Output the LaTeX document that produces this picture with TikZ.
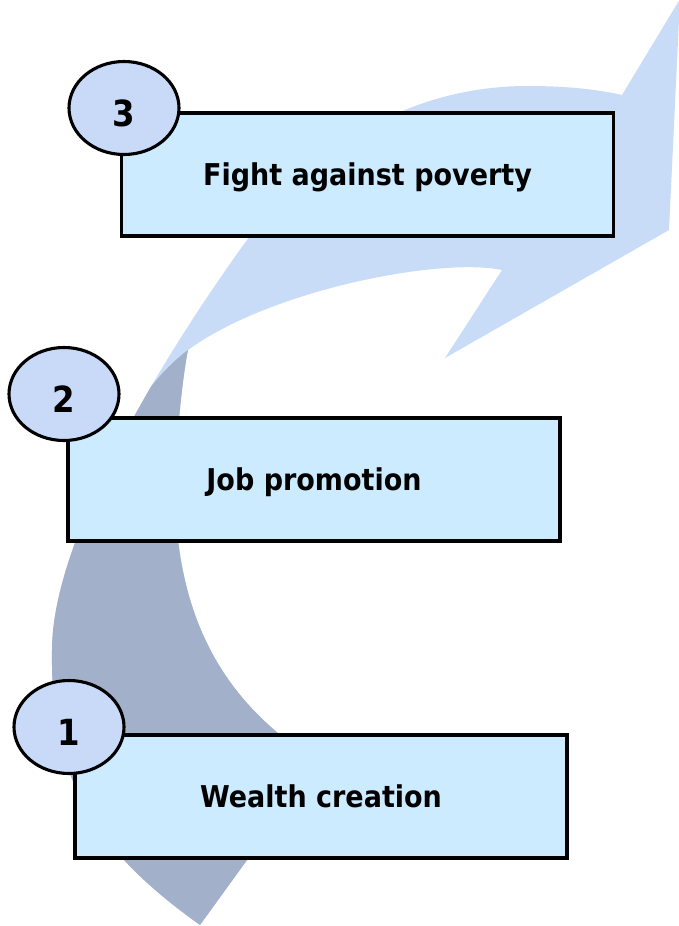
\documentclass[tikz,border=0pt]{standalone}
\usepackage{fontspec}
\setmainfont{DejaVu Sans}[FakeStretch=0.9]
\usetikzlibrary{shapes.geometric}
\definecolor{bandlight}{RGB}{200,219,247}
\definecolor{banddark}{RGB}{162,176,202}
\definecolor{boxfill}{RGB}{204,235,255}
\definecolor{circfill}{RGB}{200,218,248}
\def\mybandpath{(200,925) .. controls (95,850) and (50,780) .. (52,650)
  .. controls (52,540) and (160,360) .. (247,240)
  .. controls (334,120) and (440,86) .. (528,86)
  .. controls (570,86) and (600,90) .. (622,95)
  -- (680,-1) -- (669,230) -- (445,358) -- (502,270)
  .. controls (440,257) and (270,290) .. (188,350)
  .. controls (180,390) and (170,500) .. (178,540)
  .. controls (190,640) and (235,710) .. (318,762)
  -- cycle}
\begin{document}
\begin{tikzpicture}[x=1pt,y=-1pt,
  stepbox/.style={draw=black, line width=3.1pt, fill=boxfill, minimum width=492pt, minimum height=123pt, inner sep=0pt, text height=21.9pt, text depth=0pt, font=\bfseries\fontsize{30}{36}\selectfont},
  numcirc/.style={draw=black, line width=3.1pt, fill=circfill, ellipse, minimum width=110pt, minimum height=93pt, inner sep=0pt},
  numtext/.style={inner sep=0pt, text height=26pt, text depth=0pt, font=\bfseries\fontsize{36}{40}\selectfont}]
\useasboundingbox (0,0) rectangle (679,926);
% curved arrow band
\fill[bandlight] \mybandpath;
\begin{scope}
  \clip \mybandpath;
  \fill[banddark] (360,350) -- (188,350) .. controls (165,367) and (142,395) .. (125,425) -- (30,530) -- (30,930) -- (360,930) -- cycle;
\end{scope}
% boxes
\node[stepbox] (b3) at (367.5,174.5) {Fight against poverty};
\node[stepbox] (b2) at (314,479.5) {Job promotion};
\node[stepbox] (b1) at (321,796.5) {Wealth creation};
% number ellipses
\node[numcirc] (c3) at (124,108) {};
\node[numcirc] (c2) at (64,394) {};
\node[numcirc] (c1) at (69,727) {};
\node[numtext] (n3) at (124,113) {3};
\node[numtext] (n2) at (64,399) {2};
\node[numtext] (n1) at (69,732) {1};
\end{tikzpicture}
\end{document}
